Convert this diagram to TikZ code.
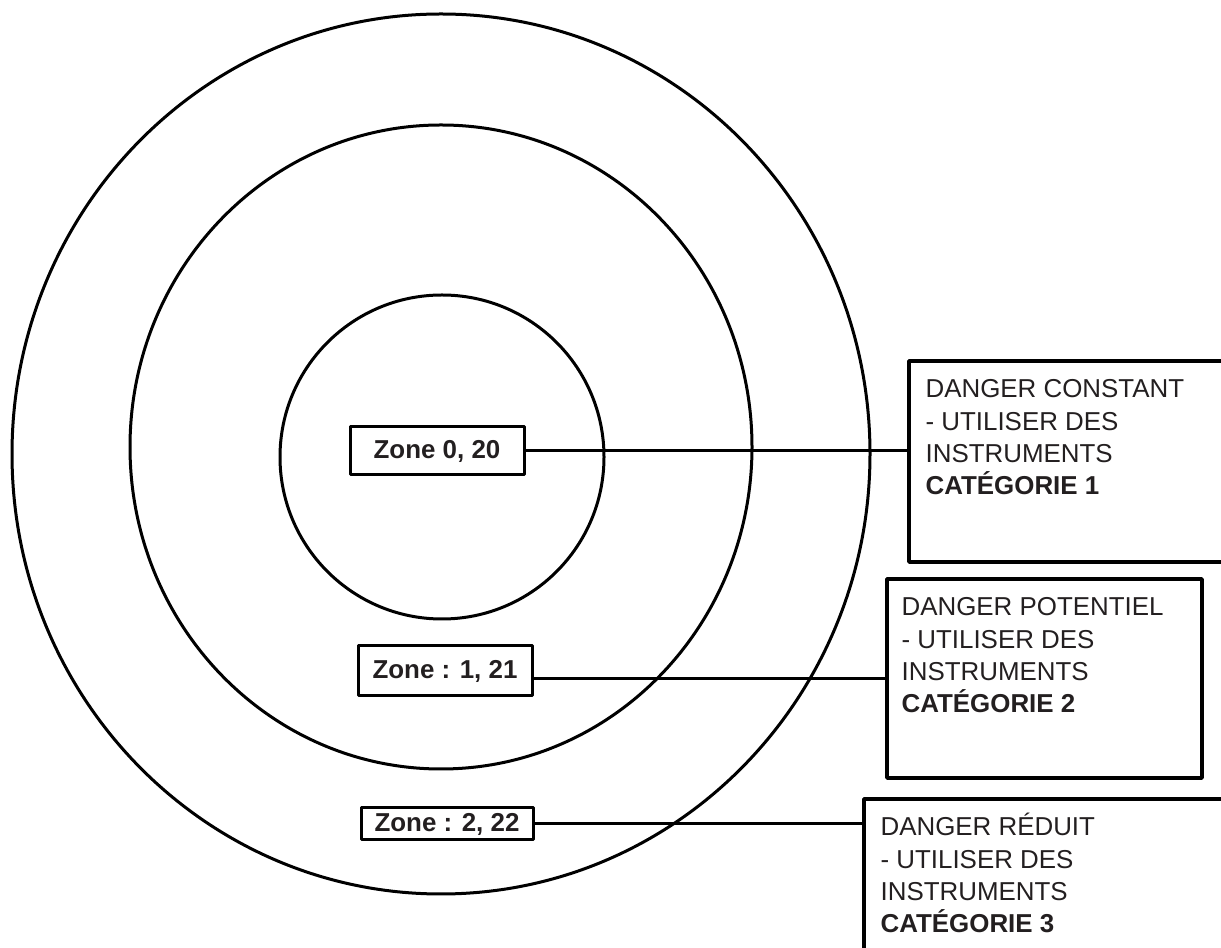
\documentclass[tikz,border=0pt]{standalone}
\usepackage{fontspec}
\setmainfont{Liberation Sans}
\usetikzlibrary{positioning}
\definecolor{ink}{HTML}{231F20}
\begin{document}
\begin{tikzpicture}[line join=bevel,
  ring/.style={draw=black,line width=3bp},
  zonebox/.style={draw=black,line width=3bp,inner sep=0pt,text=ink,font=\fontsize{26}{32.4}\selectfont\bfseries},
  catbox/.style={draw=black,line width=3.2bp,inner sep=0pt},
  cattext/.style={inner sep=0pt,text=ink,align=left,font=\fontsize{26}{32.4}\selectfont},
  link/.style={black,line width=3bp}]
%%
\useasboundingbox (0bp,0bp) rectangle (1221bp,948bp);
\clip (0bp,0bp) rectangle (1221bp,948bp);
  \draw [ring] (441bp,494bp) ellipse [x radius=429bp,y radius=440bp];
  \draw [ring] (441bp,501bp) ellipse [x radius=311bp,y radius=322bp];
  \draw [ring] (442bp,491bp) circle [radius=162bp];
%
  \node (zone_0) at (437bp,497bp) [zonebox,minimum width=174bp,minimum height=48bp] {Zone 0, 20};
  \node (zone_1) at (445bp,277bp) [zonebox,minimum width=174bp,minimum height=50bp] {Zone : 1, 21};
  \node (zone_2) at (447bp,124bp) [zonebox,minimum width=172bp,minimum height=32bp] {Zone : 2, 22};
%
  \node (cat_1) at (1074.5bp,486.5bp) [catbox,minimum width=331bp,minimum height=201bp] {};
  \node (cat_2) at (1044.5bp,269.5bp) [catbox,minimum width=315bp,minimum height=199bp] {};
  \node (cat_3) at (1052bp,68.5bp) [catbox,minimum width=376bp,minimum height=161bp] {};
  \node (cat_1_text) [cattext,below right=15.8bp and 18bp of cat_1.north west] {\strut DANGER CONSTANT\\- UTILISER DES\\INSTRUMENTS\\\textbf{CATÉGORIE 1}};
  \node (cat_2_text) [cattext,below right=15.8bp and 16bp of cat_2.north west] {\strut DANGER POTENTIEL\\- UTILISER DES\\INSTRUMENTS\\\textbf{CATÉGORIE 2}};
  \node (cat_3_text) [cattext,below right=15.8bp and 18bp of cat_3.north west] {\strut DANGER RÉDUIT\\- UTILISER DES\\INSTRUMENTS\\\textbf{CATÉGORIE 3}};
%
  \draw [link] (zone_0.east) -- (zone_0.east -| cat_1.west);
  \draw [link] (zone_1.east |- cat_2.west) -- (cat_2.west);
  \draw [link] (zone_2.east) -- (zone_2.east -| cat_3.west);
%
\end{tikzpicture}
\end{document}
